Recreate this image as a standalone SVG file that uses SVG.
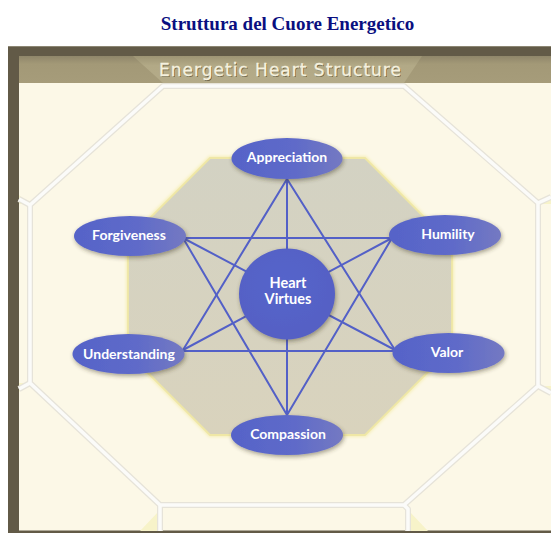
<svg xmlns="http://www.w3.org/2000/svg" width="551" height="533" viewBox="0 0 551 533">
<defs>
<style>
.title{font-family:"Liberation Serif","Times New Roman",serif;font-weight:bold;font-size:19px;fill:#0a0f80}
.hdr{font-family:"DejaVu Sans",sans-serif;font-size:17px;letter-spacing:1px;fill:#f5f1de;stroke:#f5f1de;stroke-width:0.35}
.hdrsh{font-family:"DejaVu Sans",sans-serif;font-size:17px;letter-spacing:1px;fill:#4c4632;opacity:.7}
.tileo{fill:none;stroke:#e6e3d9;stroke-width:6;stroke-linejoin:round}
.tilei{fill:none;stroke:#fbfbf9;stroke-width:3.5;stroke-linejoin:round}
.yel{fill:#f7f3c9}
.conn line{stroke:#5360c7;stroke-width:2;stroke-linecap:round}
.node ellipse{fill:url(#ng)}
.lbl{font-family:Lato,"DejaVu Sans",sans-serif;font-weight:bold;font-size:14px;fill:#ffffff;text-anchor:middle}
.hv{font-size:14.5px}
</style>
<linearGradient id="ng" x1="0" y1="0" x2="1" y2="0">
<stop offset="0" stop-color="#5663c8"/>
<stop offset="0.55" stop-color="#5e6ac9"/>
<stop offset="1" stop-color="#7479c2"/>
</linearGradient>
<radialGradient id="hg" cx="0.45" cy="0.4" r="0.6">
<stop offset="0" stop-color="#5565cb"/>
<stop offset="1" stop-color="#5560c4"/>
</radialGradient>
<linearGradient id="og" x1="0" y1="0" x2="0" y2="1">
<stop offset="0" stop-color="#d3d2c3"/>
<stop offset="1" stop-color="#d9d3bd"/>
</linearGradient>
<linearGradient id="hb" x1="0" y1="0" x2="0" y2="1">
<stop offset="0" stop-color="#8f866a"/>
<stop offset="0.3" stop-color="#a39977"/>
<stop offset="1" stop-color="#a69c7a"/>
</linearGradient>
<linearGradient id="ht" x1="0" y1="0" x2="0" y2="1">
<stop offset="0" stop-color="#9d9474"/>
<stop offset="0.35" stop-color="#b2a986"/>
<stop offset="1" stop-color="#b4ab89"/>
</linearGradient>
<filter id="sh" x="-20%" y="-30%" width="140%" height="170%">
<feGaussianBlur in="SourceAlpha" stdDeviation="2"/>
<feOffset dx="1" dy="2" result="b"/>
<feFlood flood-color="#3d3722" flood-opacity="0.45"/>
<feComposite in2="b" operator="in"/>
<feMerge><feMergeNode/><feMergeNode in="SourceGraphic"/></feMerge>
</filter>
<filter id="glow" x="-10%" y="-10%" width="120%" height="120%">
<feGaussianBlur stdDeviation="1.5"/>
</filter>
</defs>

<rect x="0" y="0" width="551" height="533" fill="#ffffff"/>
<text class="title" x="287.5" y="30" text-anchor="middle">Struttura del Cuore Energetico</text>

<g id="frame">
<rect x="8" y="46" width="543" height="487" fill="#625a47"/>
<line x1="8" y1="46.5" x2="551" y2="46.5" stroke="#8c8673" stroke-width="1"/>
<rect x="19" y="56" width="532" height="27" fill="url(#hb)"/>
<polygon points="133,56 422,56 404,83 163,83" fill="url(#ht)"/>
<rect x="19" y="83" width="532" height="447.5" fill="#fcf8e7"/>
<text class="hdrsh" x="281.5" y="76.5" text-anchor="middle">Energetic Heart Structure</text>
<text class="hdr" x="280.5" y="75.5" text-anchor="middle">Energetic Heart Structure</text>
</g>

<g id="tiles">
<polygon class="yel" points="19,195 29,204 19,204"/>
<polygon class="yel" points="19,383 28,383 19,392"/>
<polygon class="yel" points="140,531 159,511 159,531"/>
<polygon class="yel" points="409,511 428,531 409,531"/>
<polygon class="yel" points="551,196 541,204 551,204"/>
<polygon class="yel" points="541,386 551,386 551,394"/>
<g class="tileo">
<polygon points="163,86 404,86 538,203 538,386 404,505 160,505 30,383 30,205"/>
<polyline points="30,205 19,199"/>
<polyline points="30,383 19,389"/>
<polyline points="538,203 551,197"/>
<polyline points="538,386 551,393"/>
<polyline points="160,505 160,531"/>
<polyline points="404,505 408,509 408,531"/>
</g>
<g class="tilei">
<polygon points="163,86 404,86 538,203 538,386 404,505 160,505 30,383 30,205"/>
<polyline points="30,205 19,199"/>
<polyline points="30,383 19,389"/>
<polyline points="538,203 551,197"/>
<polyline points="538,386 551,393"/>
<polyline points="160,505 160,531"/>
<polyline points="404,505 408,509 408,531"/>
</g>
</g>

<g id="inner-octagon">
<polygon points="210,158 365,158 452,245 452,348 365,435 210,435 128,353 128,240" fill="none" stroke="#f6efb8" stroke-width="4" filter="url(#glow)"/>
<polygon points="210,158 365,158 452,245 452,348 365,435 210,435 128,353 128,240" fill="url(#og)" stroke="#efe7a6" stroke-width="1.8"/>
</g>

<g id="connectors" class="conn">
<line x1="287" y1="179" x2="183" y2="350"/>
<line x1="287" y1="179" x2="395" y2="350"/>
<line x1="287" y1="179" x2="287" y2="415"/>
<line x1="183" y1="238" x2="392" y2="238"/>
<line x1="183" y1="238" x2="287" y2="415"/>
<line x1="183" y1="238" x2="395" y2="350"/>
<line x1="392" y1="238" x2="287" y2="415"/>
<line x1="392" y1="238" x2="183" y2="350"/>
<line x1="183" y1="351" x2="395" y2="351"/>
</g>

<g id="node-heart" class="node">
<ellipse cx="287" cy="294" rx="48" ry="45.5" filter="url(#sh)" style="fill:url(#hg)"/>
<text class="lbl hv" x="288" y="287.5">Heart</text>
<text class="lbl hv" x="288" y="303.5">Virtues</text>
</g>
<g id="node-appreciation" class="node">
<ellipse cx="287" cy="158.5" rx="55.5" ry="20.5" filter="url(#sh)"/>
<text class="lbl" x="287" y="162">Appreciation</text>
</g>
<g id="node-forgiveness" class="node">
<ellipse cx="130" cy="236" rx="56" ry="20" filter="url(#sh)"/>
<text class="lbl" x="129" y="239.5">Forgiveness</text>
</g>
<g id="node-humility" class="node">
<ellipse cx="445" cy="235" rx="56" ry="20" filter="url(#sh)"/>
<text class="lbl" x="448" y="238.5">Humility</text>
</g>
<g id="node-understanding" class="node">
<ellipse cx="128.5" cy="354" rx="56" ry="20" filter="url(#sh)"/>
<text class="lbl" x="129" y="359">Understanding</text>
</g>
<g id="node-valor" class="node">
<ellipse cx="448.5" cy="353" rx="56" ry="20" filter="url(#sh)"/>
<text class="lbl" x="447" y="356.5">Valor</text>
</g>
<g id="node-compassion" class="node">
<ellipse cx="287" cy="435" rx="56" ry="20" filter="url(#sh)"/>
<text class="lbl" x="288" y="439">Compassion</text>
</g>
</svg>
